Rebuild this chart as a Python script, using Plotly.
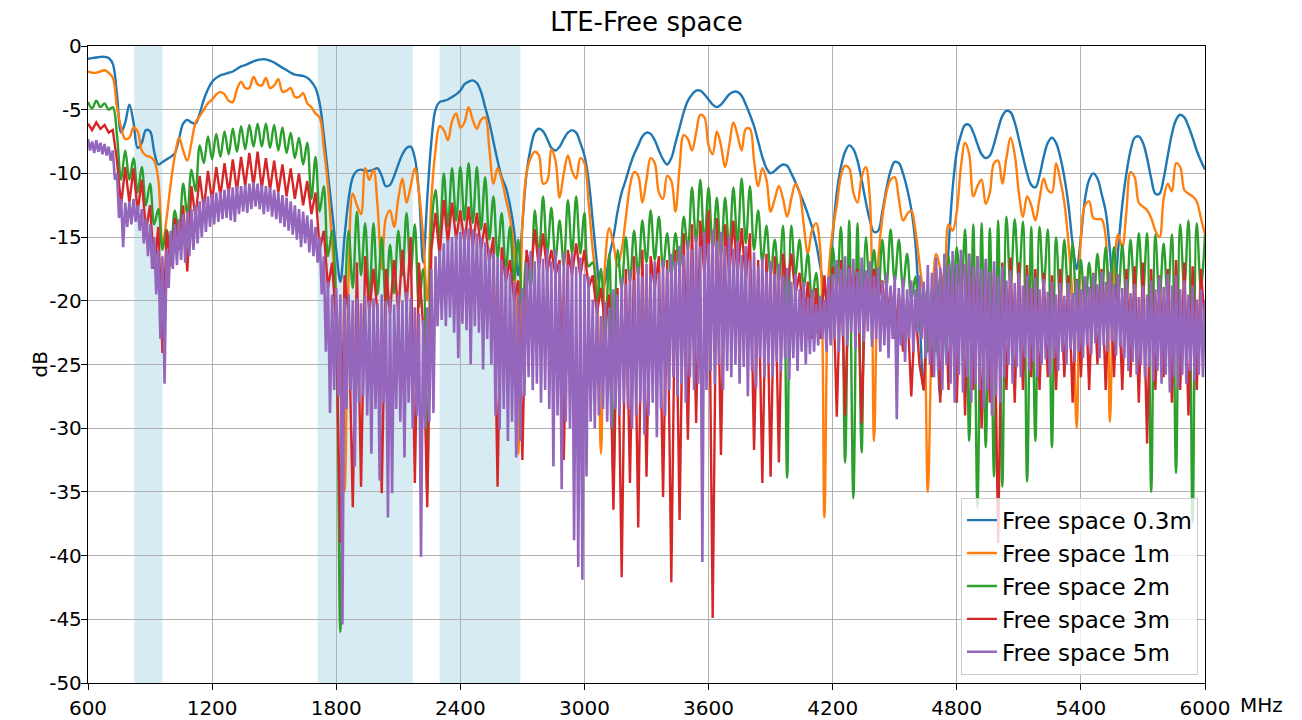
import plotly.graph_objects as go

# ---------------- data ----------------
title_text = "LTE-Free space"
series_names = ["Free space 0.3m", "Free space 1m", "Free space 2m", "Free space 3m", "Free space 5m"]
series_colors = ["#1f77b4", "#ff7f0e", "#2ca02c", "#d62728", "#9467bd"]

# LTE bands shaded (MHz)
band_start = [824, 1710, 2300]
band_end = [960, 2170, 2690]

x_ticks = [600, 1200, 1800, 2400, 3000, 3600, 4200, 4800, 5400, 6000]
y_ticks = [-50, -45, -40, -35, -30, -25, -20, -15, -10, -5, 0]
y_ticklabels = ["-50", "-45", "-40", "-35", "-30", "-25", "-20", "-15", "-10", "-5", "0"]

# frequency grids (MHz)
freq_20 = list(range(600, 6001, 20))
freq_10 = list(range(600, 6001, 10))

# Free space 0.3m, one value every 20 MHz
fs_03m = [
    -1.0, -0.95, -0.9, -0.85, -0.85, -0.95, -1.4, -3.8, -6.8, -6.0,
    -4.6, -6.0, -8.0, -7.6, -6.6, -6.7, -8.3, -9.3, -9.1, -8.9,
    -8.7, -8.4, -7.3, -6.1, -5.8, -6.0, -6.1, -5.3, -4.2, -3.4,
    -2.8, -2.5, -2.3, -2.2, -2.1, -2.0, -1.8, -1.6, -1.5, -1.35,
    -1.2, -1.1, -1.05, -1.05, -1.15, -1.3, -1.5, -1.7, -1.9, -2.1,
    -2.25, -2.3, -2.35, -2.5, -2.8, -3.3, -4.5, -7.0, -10.0, -13.0,
    -16.0, -18.5, -15.0, -12.0, -10.3, -9.8, -9.7, -9.8, -9.8, -9.7,
    -9.6, -10.2, -11.0, -10.9, -10.2, -9.3, -8.5, -8.0, -7.9, -8.8,
    -11.5, -17.0, -12.0, -7.5, -5.0, -4.4, -4.3, -4.2, -4.0, -3.8,
    -3.5, -3.0, -2.8, -2.7, -2.9, -3.6, -4.8, -6.0, -7.5, -9.0,
    -10.3, -11.1, -12.5, -14.5, -18.0, -14.0, -10.0, -8.0, -6.8, -6.5,
    -6.7, -7.3, -8.0, -8.2, -7.9, -7.3, -6.8, -6.6, -6.8, -7.6,
    -8.6, -10.5, -13.7, -17.0, -19.5, -18.5, -16.5, -15.0, -13.0, -11.5,
    -10.5, -9.4, -8.5, -7.8, -7.1, -6.8, -6.9, -7.4, -8.2, -8.9,
    -9.3, -8.8, -7.6, -6.4, -5.2, -4.3, -3.8, -3.5, -3.5, -3.8,
    -4.2, -4.6, -4.8, -4.6, -4.2, -3.8, -3.6, -3.6, -3.9, -4.6,
    -5.4, -6.3, -7.5, -8.7, -9.6, -10.0, -9.8, -9.5, -9.3, -9.4,
    -10.0, -10.7, -11.5, -12.3, -13.2, -14.2, -15.5, -17.3, -19.0, -19.5,
    -15.0, -11.5, -9.5, -8.3, -7.8, -8.1, -9.0, -10.5, -12.2, -13.7,
    -14.6, -14.5, -13.0, -11.2, -9.8, -9.1, -9.2, -10.0, -11.2, -12.8,
    -15.5, -21.0, -27.0, -22.0, -20.0, -22.0, -27.5, -22.0, -16.0, -11.2,
    -8.3, -7.0, -6.2, -6.2, -6.8, -7.7, -8.5, -8.8, -8.6, -7.7,
    -6.5, -5.5, -5.1, -5.2, -6.0, -7.3, -8.7, -10.0, -10.9, -11.1,
    -10.2, -8.7, -7.6, -7.2, -7.6, -8.7, -10.3, -12.5, -15.5, -17.5,
    -15.0, -12.0, -10.5, -10.0, -10.4, -11.6, -13.0, -16.0, -20.0, -16.0,
    -12.5, -10.0, -8.2, -7.2, -7.1, -7.6, -8.8, -10.4, -11.6, -11.6,
    -10.4, -8.6, -6.9, -5.8, -5.4, -5.6, -6.3, -7.2, -8.2, -9.0,
    -9.7,
]

# Free space 1m, one value every 20 MHz
fs_1m = [
    -2.0, -2.1, -2.1, -2.0, -1.9, -2.1, -2.5, -4.8, -6.4, -7.3,
    -7.2, -6.4, -6.7, -8.2, -8.6, -8.7, -9.0, -10.5, -15.6, -13.5,
    -10.8, -8.6, -7.2, -8.2, -9.0, -7.6, -6.0, -5.5, -5.0, -4.5,
    -4.2, -3.8, -3.6, -3.8, -4.3, -4.4, -3.4, -2.8, -3.3, -3.3,
    -2.4, -3.0, -3.1, -2.5, -3.3, -3.1, -2.6, -3.6, -3.5, -3.3,
    -4.0, -4.0, -3.7, -4.5, -4.8, -5.3, -5.6, -8.0, -11.0, -15.5,
    -20.0, -26.0, -35.0, -18.0, -11.6, -12.5, -13.2, -9.6, -10.5, -9.7,
    -12.6, -17.5, -13.5, -12.9, -14.2, -12.0, -10.4, -12.3, -11.0, -9.6,
    -11.5, -15.0, -20.0, -12.0, -8.2, -6.3, -6.6, -7.4, -5.9, -5.3,
    -6.4, -6.0, -4.8, -5.8, -6.5, -5.8, -5.6, -8.0, -10.8, -9.6,
    -10.5, -12.0, -13.5, -16.0, -32.0, -14.0, -10.0, -8.8, -8.3, -8.6,
    -10.8, -10.6, -8.1, -9.0, -11.9, -10.0, -8.6, -9.8, -10.4, -8.8,
    -9.2, -12.3, -16.0, -19.0, -32.0, -17.0, -14.3, -15.5, -17.3, -16.0,
    -13.5, -11.0, -9.9, -10.2, -12.3, -10.5, -8.8, -9.2, -11.5, -12.0,
    -10.2, -10.6, -13.0, -9.5, -7.0, -7.3, -8.2, -6.8, -5.4, -5.6,
    -7.8, -8.5, -6.7, -7.8, -9.5, -7.8, -6.0, -7.0, -8.2, -6.5,
    -6.5, -9.0, -11.0, -9.6, -10.5, -13.0, -12.0, -11.0, -12.0, -13.4,
    -12.0, -10.8, -11.5, -14.0, -16.3, -14.5, -13.9, -16.0, -37.0, -18.0,
    -14.5, -12.5, -10.2, -9.4, -9.6, -11.5, -12.3, -10.3, -9.5, -12.0,
    -31.0, -17.0, -13.5, -11.5, -10.5, -10.3, -12.0, -13.7, -13.2, -12.9,
    -14.5, -17.1, -20.0, -35.0, -22.0, -16.3, -17.5, -19.0, -14.0, -14.5,
    -13.0, -9.5, -7.6, -8.5, -11.8, -11.0, -10.5, -12.4, -11.5, -9.2,
    -9.0, -10.8, -8.8, -7.2, -8.5, -11.5, -13.4, -11.8, -12.5, -13.7,
    -12.0, -10.4, -11.3, -11.5, -9.2, -10.5, -12.3, -15.5, -20.0, -30.0,
    -15.0, -12.5, -12.2, -13.5, -13.6, -13.6, -15.0, -29.5, -18.0, -14.8,
    -15.8, -13.0, -9.9, -10.3, -12.3, -12.6, -12.9, -13.5, -14.5, -15.0,
    -12.0, -10.8, -11.4, -9.2, -9.5, -11.3, -11.6, -11.8, -12.2, -13.5,
    -14.8,
]

# Free space 2m, one value every 20 MHz
fs_2m = [
    -4.4, -4.9, -4.3, -4.8, -4.5, -5.0, -4.8, -7.0, -10.5, -8.2,
    -10.5, -8.8, -11.5, -9.5, -12.5, -10.8, -14.0, -12.8, -16.0, -14.4,
    -15.8, -12.9, -14.6, -10.8, -13.2, -9.7, -11.4, -7.8, -9.2, -7.1,
    -8.9, -6.9, -8.7, -6.7, -8.5, -6.5, -8.3, -6.3, -8.1, -6.2,
    -7.9, -6.1, -7.9, -6.1, -8.0, -6.2, -8.2, -6.4, -8.4, -6.8,
    -8.8, -7.2, -9.3, -7.6, -12.0, -8.7, -13.0, -11.0, -16.5, -14.5,
    -21.0, -46.0, -22.0, -14.5, -19.0, -13.0, -18.0, -13.9, -20.0, -13.9,
    -19.5, -15.0, -20.5, -15.6, -19.4, -14.5, -18.0, -13.1, -17.8, -14.0,
    -20.5, -17.5, -35.0, -14.5, -11.3, -15.2, -10.0, -14.2, -9.6, -13.7,
    -9.5, -13.7, -9.2, -13.9, -9.5, -14.4, -10.3, -15.2, -11.8, -16.6,
    -13.1, -17.6, -14.2, -18.4, -15.2, -21.0, -16.5, -19.0, -12.9, -16.5,
    -11.8, -16.3, -12.7, -16.8, -13.7, -17.3, -12.1, -16.3, -11.8, -16.3,
    -13.1, -17.3, -17.0, -20.0, -17.5, -23.0, -16.3, -33.9, -16.0, -19.0,
    -15.0, -18.5, -14.5, -18.0, -13.7, -17.0, -12.9, -16.8, -13.4, -17.5,
    -14.7, -18.0, -14.7, -17.5, -13.4, -16.0, -11.1, -15.5, -10.5, -15.5,
    -11.1, -16.0, -11.9, -16.5, -11.9, -16.0, -11.1, -15.5, -10.4, -15.5,
    -11.0, -16.0, -12.9, -17.0, -14.1, -18.0, -15.2, -18.5, -14.1, -33.9,
    -14.1, -18.0, -15.2, -19.0, -16.3, -20.0, -17.8, -21.0, -18.9, -22.0,
    -15.8, -19.0, -14.2, -32.7, -13.7, -35.5, -13.9, -31.9, -15.0, -19.0,
    -16.0, -20.0, -15.2, -19.0, -14.4, -18.5, -15.2, -19.0, -16.3, -20.0,
    -18.1, -22.0, -19.0, -24.0, -19.0, -24.0, -18.0, -23.0, -16.5, -21.0,
    -15.8, -20.0, -14.4, -31.0, -14.0, -36.2, -13.9, -31.5, -14.3, -33.8,
    -13.7, -34.6, -13.4, -19.0, -13.6, -18.5, -13.8, -34.2, -14.2, -31.0,
    -14.2, -19.0, -14.4, -31.5, -15.0, -20.0, -15.2, -20.0, -15.5, -21.0,
    -16.8, -21.0, -17.0, -21.0, -16.3, -20.0, -15.8, -20.0, -15.8, -20.0,
    -15.6, -20.0, -15.2, -19.5, -14.7, -19.5, -14.7, -35.0, -14.8, -20.0,
    -15.5, -20.0, -14.8, -33.5, -14.0, -19.0, -13.7, -37.4, -13.9, -19.0,
    -14.8,
]

# Free space 3m, one value every 20 MHz
fs_3m = [
    -6.1, -6.6, -6.0, -6.5, -6.2, -6.8, -6.6, -9.0, -12.5, -9.5,
    -12.3, -9.6, -13.0, -10.5, -14.5, -12.5, -17.5, -14.2, -24.1, -14.5,
    -17.3, -13.5, -16.0, -12.5, -17.7, -11.0, -13.5, -10.2, -12.8, -9.8,
    -12.2, -9.5, -11.8, -9.2, -11.6, -8.9, -11.4, -8.7, -11.0, -8.4,
    -11.0, -8.3, -11.2, -8.8, -11.3, -9.0, -11.5, -9.3, -11.8, -9.6,
    -12.0, -10.0, -12.5, -10.6, -13.2, -11.5, -16.0, -14.5, -19.0, -17.0,
    -22.0, -39.0, -18.0, -21.0, -36.2, -17.0, -34.6, -16.5, -21.0, -17.5,
    -21.0, -35.1, -17.5, -21.0, -16.8, -21.0, -16.0, -20.5, -15.0, -34.3,
    -17.0, -22.0, -36.2, -16.0, -13.1, -16.5, -12.1, -15.5, -12.3, -15.2,
    -12.9, -15.5, -12.6, -15.8, -13.1, -16.0, -13.9, -17.0, -15.0, -34.6,
    -15.8, -18.5, -16.8, -20.0, -18.4, -32.5, -16.0, -18.0, -14.4, -17.5,
    -14.7, -17.8, -16.0, -18.0, -16.8, -32.5, -16.0, -18.0, -15.5, -18.1,
    -16.0, -19.0, -18.0, -21.0, -19.0, -22.0, -19.5, -36.4, -19.0, -41.7,
    -17.5, -34.3, -16.5, -37.8, -16.0, -33.8, -16.5, -19.0, -16.5, -35.4,
    -16.8, -42.1, -16.0, -37.2, -14.7, -30.9, -14.0, -29.6, -13.7, -18.0,
    -12.9, -44.9, -13.5, -32.1, -14.0, -18.0, -13.7, -18.0, -14.3, -18.5,
    -14.7, -31.7, -16.8, -34.3, -16.3, -33.8, -16.5, -32.7, -16.3, -19.0,
    -16.3, -19.5, -17.8, -22.0, -18.5, -23.0, -19.0, -23.0, -18.0, -22.0,
    -17.3, -29.1, -16.8, -29.0, -17.3, -20.0, -17.5, -29.6, -18.0, -20.0,
    -17.5, -20.0, -18.4, -22.0, -19.0, -23.0, -19.5, -24.0, -20.0, -27.5,
    -20.5, -25.0, -27.0, -20.0, -26.0, -17.5, -28.0, -17.2, -27.0, -17.0,
    -28.0, -16.6, -29.0, -16.3, -27.0, -16.5, -30.0, -17.0, -28.0, -17.6,
    -39.0, -17.0, -27.0, -16.6, -28.0, -17.0, -27.0, -17.2, -26.0, -17.5,
    -27.0, -17.8, -26.0, -18.0, -27.0, -17.5, -26.0, -18.0, -28.0, -18.3,
    -26.0, -18.1, -27.0, -17.8, -25.0, -17.5, -27.0, -17.8, -26.0, -18.0,
    -27.0, -17.5, -26.0, -17.3, -28.0, -17.0, -31.2, -17.5, -27.0, -18.0,
    -26.0, -17.5, -28.0, -16.8, -27.0, -17.0, -29.0, -17.3, -27.0, -17.5,
    -22.0,
]

# Free space 5m, one value every 10 MHz
fs_5m = [
    -7.3, -8.2, -7.5, -8.4, -7.4, -8.3, -7.6, -8.5, -7.7, -8.6,
    -7.9, -9.0, -8.2, -10.5, -10.0, -13.5, -12.0, -15.8, -12.3, -14.2,
    -12.2, -14.0, -12.0, -13.8, -12.5, -14.5, -12.8, -15.5, -13.5, -16.5,
    -14.0, -17.5, -15.0, -19.5, -16.0, -23.0, -16.5, -26.5, -16.0, -19.0,
    -14.5, -17.5, -14.0, -17.2, -13.6, -16.8, -13.2, -17.0, -13.0, -16.5,
    -12.8, -16.0, -12.5, -15.5, -12.2, -15.0, -12.0, -14.6, -11.8, -14.2,
    -11.6, -14.0, -11.5, -13.8, -11.4, -13.6, -11.3, -13.5, -11.2, -13.7,
    -11.1, -13.8, -11.0, -13.2, -11.0, -13.0, -10.9, -13.1, -10.8, -12.8,
    -10.7, -12.6, -10.8, -12.8, -10.9, -13.2, -11.0, -13.0, -11.1, -13.4,
    -11.3, -13.6, -11.5, -13.9, -11.7, -14.2, -11.9, -14.5, -12.2, -14.8,
    -12.5, -15.2, -12.8, -15.8, -13.0, -15.5, -13.3, -16.2, -13.6, -16.5,
    -14.2, -17.0, -15.0, -19.5, -16.5, -24.0, -18.5, -28.8, -19.5, -27.0,
    -19.0, -27.5, -19.5, -45.4, -19.8, -28.5, -19.5, -27.0, -20.0, -33.0,
    -19.8, -28.0, -20.2, -27.5, -19.6, -29.0, -20.0, -32.0, -19.8, -28.5,
    -20.2, -34.1, -19.5, -28.0, -20.0, -37.0, -19.8, -35.1, -20.3, -28.5,
    -19.5, -29.5, -20.0, -32.3, -19.3, -28.0, -19.8, -30.0, -20.5, -29.0,
    -21.0, -40.1, -21.5, -30.0, -20.5, -29.5, -17.5, -28.8, -16.5, -22.0,
    -16.0, -21.5, -15.5, -22.0, -15.2, -21.3, -15.0, -22.5, -14.8, -24.5,
    -14.6, -21.8, -14.4, -22.3, -14.3, -25.0, -14.4, -22.0, -14.7, -22.5,
    -15.0, -25.4, -15.4, -23.0, -15.9, -25.0, -16.3, -29.0, -16.6, -30.1,
    -16.8, -28.5, -17.3, -31.0, -17.8, -29.5, -18.5, -32.3, -19.5, -31.0,
    -19.0, -27.5, -17.0, -26.0, -16.1, -27.0, -16.9, -26.5, -15.8, -28.0,
    -16.7, -27.0, -15.9, -28.5, -16.9, -33.0, -16.0, -29.0, -17.1, -34.8,
    -16.2, -29.5, -17.2, -30.0, -16.3, -38.8, -17.3, -40.9, -16.6, -41.9,
    -17.9, -33.8, -18.1, -29.5, -19.9, -30.0, -20.1, -29.0, -21.2, -28.5,
    -20.1, -29.5, -20.5, -30.0, -19.1, -28.5, -19.5, -29.0, -18.2, -28.0,
    -18.7, -28.5, -17.6, -30.0, -18.4, -29.0, -17.3, -28.0, -18.1, -30.5,
    -17.1, -29.0, -17.9, -28.0, -16.9, -30.7, -17.8, -28.5, -16.8, -29.0,
    -17.5, -27.0, -16.3, -26.0, -16.9, -27.5, -15.7, -26.5, -16.4, -28.0,
    -15.3, -26.0, -16.0, -27.0, -14.9, -26.5, -15.7, -40.5, -14.6, -27.0,
    -15.5, -25.5, -14.4, -26.5, -15.3, -25.0, -14.6, -27.0, -15.7, -25.5,
    -14.9, -26.0, -15.9, -25.0, -15.3, -26.5, -16.4, -25.2, -15.7, -27.5,
    -16.8, -25.5, -16.2, -26.8, -17.3, -24.5, -16.6, -26.0, -17.7, -25.0,
    -16.9, -26.0, -17.9, -24.8, -17.1, -25.5, -18.1, -24.5, -17.4, -26.2,
    -18.5, -24.5, -17.9, -25.5, -19.1, -24.0, -18.5, -25.0, -19.7, -24.2,
    -19.1, -24.0, -20.3, -23.5, -19.6, -23.0, -19.9, -24.0, -18.1, -23.5,
    -17.9, -23.0, -16.8, -24.0, -17.5, -22.8, -16.5, -23.5, -17.4, -22.5,
    -16.7, -23.8, -17.7, -22.6, -16.6, -23.2, -17.6, -22.4, -16.9, -23.6,
    -18.0, -23.0, -17.4, -24.0, -18.5, -23.5, -17.8, -24.5, -18.8, -23.0,
    -18.0, -29.3, -19.0, -23.5, -18.2, -24.8, -19.1, -23.0, -18.4, -24.0,
    -19.1, -22.5, -18.0, -23.0, -18.5, -24.5, -17.2, -25.0, -17.8, -26.0,
    -16.6, -25.5, -17.4, -27.0, -16.3, -25.0, -17.2, -26.5, -16.1, -28.0,
    -17.1, -25.8, -16.0, -27.2, -17.1, -26.0, -16.3, -28.0, -17.3, -26.5,
    -16.5, -27.0, -17.5, -28.5, -16.7, -27.0, -17.7, -29.0, -16.9, -27.5,
    -18.0, -28.0, -17.3, -26.0, -18.4, -25.0, -17.6, -26.5, -18.6, -25.2,
    -17.8, -26.0, -18.8, -24.5, -18.0, -25.5, -19.0, -24.8, -18.2, -26.0,
    -19.1, -25.0, -18.3, -24.6, -19.3, -25.8, -18.5, -24.5, -19.5, -25.5,
    -18.6, -24.0, -19.6, -25.0, -18.6, -23.8, -19.4, -24.8, -18.4, -24.0,
    -19.1, -24.5, -18.1, -23.5, -18.9, -24.2, -17.9, -23.3, -18.7, -24.5,
    -17.7, -23.5, -18.5, -24.0, -17.7, -23.2, -18.7, -24.3, -17.9, -23.6,
    -19.0, -24.5, -18.3, -25.5, -19.4, -24.8, -18.7, -25.8, -19.7, -25.0,
    -18.8, -26.0, -19.5, -25.2, -18.4, -26.3, -19.1, -25.5, -18.1, -26.5,
    -18.9, -25.8, -17.9, -27.2, -18.8, -26.0, -18.0, -26.8, -19.1, -25.8,
    -18.4, -26.5, -19.5, -25.5, -18.8, -26.3, -19.9, -25.8, -19.1, -26.0,
    -20.0,
]

# ---------------- figure ----------------
FONT = "DejaVu Sans"
fig = go.Figure()

series = [
    (freq_20, fs_03m, "spline", 2.4),
    (freq_20, fs_1m, "spline", 2.4),
    (freq_20, fs_2m, "spline", 2.4),
    (freq_20, fs_3m, "linear", 2.4),
    (freq_10, fs_5m, "linear", 2.6),
]
for i, (fx, fy, shape, lw) in enumerate(series):
    n = min(len(fx), len(fy))
    fig.add_trace(go.Scatter(
        x=fx[:n], y=fy[:n], mode="lines", name=series_names[i],
        legendgroup=series_names[i],
        line=dict(color=series_colors[i], width=lw, shape=shape, simplify=False),
    ))

for b0, b1 in zip(band_start, band_end):
    fig.add_shape(type="rect", xref="x", yref="paper", x0=b0, x1=b1, y0=0, y1=1,
                  fillcolor="rgba(173,216,230,0.5)", line=dict(width=0), layer="below")

axis_common = dict(
    showgrid=True, gridcolor="#b0b0b0", gridwidth=1.3,
    showline=True, linecolor="black", linewidth=1.3, mirror=True,
    ticks="outside", ticklen=6, tickwidth=1.3, tickcolor="black",
    zeroline=False, automargin=False,
    tickfont=dict(family=FONT, size=20, color="black"),
)

fig.update_xaxes(range=[600, 6000], tickvals=x_ticks, ticklabelstandoff=1, **axis_common)
fig.update_yaxes(range=[-50, 0], tickvals=y_ticks, ticktext=y_ticklabels,
                 ticklabelstandoff=-5, **axis_common)

fig.update_layout(
    width=1302, height=720,
    margin=dict(l=88, r=97, t=46, b=37, autoexpand=False),
    plot_bgcolor="white", paper_bgcolor="white",
    font=dict(family=FONT, color="black"),
    title=dict(text=title_text, x=0.5, xref="paper", y=1 - 22 / 720, yref="container",
               xanchor="center", yanchor="middle", font=dict(family=FONT, size=26, color="black")),
    legend=dict(x=0.9937, y=0.013, xanchor="right", yanchor="bottom",
                bgcolor="rgba(255,255,255,0.8)", bordercolor="#cccccc", borderwidth=1,
                font=dict(family=FONT, size=23, color="black"), tracegroupgap=0),
    showlegend=True,
    annotations=[
        dict(text="MHz", xref="paper", yref="paper", x=1.0295, y=-0.0345,
             xanchor="left", yanchor="middle", showarrow=False,
             font=dict(family=FONT, size=20, color="black")),
        dict(text="dB", xref="paper", yref="paper", x=-0.043, y=0.5, textangle=-90,
             xanchor="center", yanchor="middle", showarrow=False,
             font=dict(family=FONT, size=20, color="black")),
    ],
)

fig.write_html("out.html", config={"displayModeBar": False},
               post_script="document.body.style.margin='0';")
